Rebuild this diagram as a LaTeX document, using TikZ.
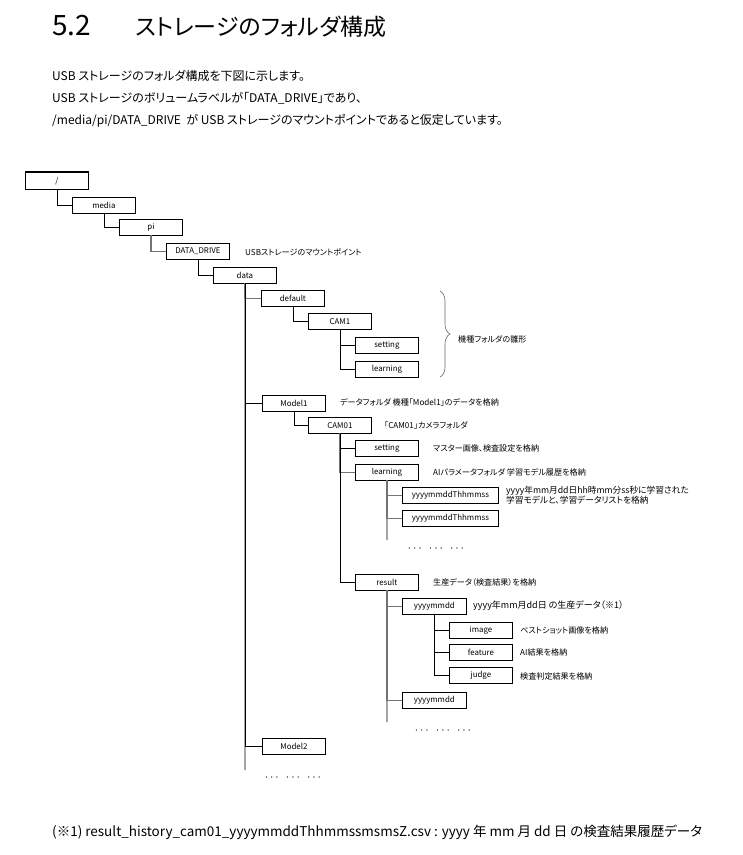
\documentclass[tikz,border=0pt]{standalone}
\usepackage{fontspec}
\setmainfont{Noto Sans CJK JP}[RawFeature=+palt]
\usetikzlibrary{decorations.pathreplacing}
\begin{document}
\begin{tikzpicture}[x=1pt,y=-1pt,
  box/.style={draw=black, line width=0.8pt, minimum width=63pt, minimum height=15.5pt,
    inner sep=0pt, anchor=north west, font=\fontsize{7.9}{9}\selectfont},
  wbox/.style={box, minimum width=96pt},
  mbox/.style={box, minimum width=64pt},
  lbl/.style={anchor=west, inner sep=0pt, font=\fontsize{8.1}{9.5}\selectfont},
  dots/.style={inner sep=0pt, font=\fontsize{11.5}{12}\selectfont},
  conn/.style={draw=black, line width=0.8pt},
  conng/.style={draw=black!55, line width=1.3pt},
  txt/.style={anchor=base west, inner sep=0pt, font=\fontsize{12}{14}\selectfont},
  ftxt/.style={anchor=base west, inner sep=0pt, font=\fontsize{13.5}{15}\selectfont},
  ttl/.style={anchor=base west, inner sep=0pt, font=\fontsize{23}{28}\selectfont}
]
\useasboundingbox (0,0) rectangle (743,855);
\fill[white] (0,0) rectangle (743,855);

% heading and text
\node[ttl, font=\fontsize{28}{30}\selectfont] (hnum) at (52,35) {5.2};
\node[ttl] (htit) at (135,35) {ストレージのフォルダ構成};
\node[txt] (l1) at (52,80) {USB ストレージのフォルダ構成を下図に示します。};
\node[txt] (l2) at (52,102) {USB ストレージのボリュームラベルが「DATA\_DRIVE」であり、};
\node[txt] (l3) at (52,124) {/media/pi/DATA\_DRIVE\ \ が\ USB ストレージのマウントポイントであると仮定しています。};
\node[ftxt] (fn) at (52,836) {(※1) result\_history\_cam01\_yyyymmddThhmmssmsmsZ.csv : yyyy 年 mm 月 dd 日\ の検査結果履歴データ};

% boxes
\node[box, minimum height=17pt] (root) at (25,172) {/};
\draw[line width=1.8pt] (root.north west) -- (root.north east);
\node[box] (media) at (72,197) {media};
\node[box] (pi) at (119,219) {pi};
\node[box] (dd) at (166,243) {DATA\_DRIVE};
\node[box] (data) at (213,267) {data};
\node[box] (default) at (261,290) {default};
\node[box] (cam1) at (308,313) {CAM1};
\node[box] (set1) at (355,337) {setting};
\node[box] (learn1) at (355,361) {learning};
\node[box] (model1) at (262,395) {Model1};
\node[box] (cam01) at (308,417) {CAM01};
\node[box] (set2) at (355,440) {setting};
\node[box] (learn2) at (355,464) {learning};
\node[wbox] (t1) at (402,487) {yyyymmddThhmmss};
\node[wbox] (t2) at (402,510) {yyyymmddThhmmss};
\node[box] (result) at (355,574) {result};
\node[mbox] (d1) at (402,598) {yyyymmdd};
\node[box] (img) at (449,622) {image};
\node[box] (feat) at (449,644) {feature};
\node[box] (judge) at (449,667) {judge};
\node[mbox] (d2) at (402,692) {yyyymmdd};
\node[box] (model2) at (262,738) {Model2};

% labels
\node[lbl] (ldd) at (245,252) {USBストレージのマウントポイント};
\node[lbl] (lbrace) at (458,339) {機種フォルダの雛形};
\node[lbl] (lm1) at (340,402) {データフォルダ\ 機種「Model1」のデータを格納};
\node[lbl] (lc01) at (384,425) {「CAM01」カメラフォルダ};
\node[lbl] (ls2) at (433,448) {マスター画像、検査設定を格納};
\node[lbl] (ll2) at (433,472) {AIパラメータフォルダ\ 学習モデル履歴を格納};
\node[lbl, align=left, font=\fontsize{8.7}{9.8}\selectfont] (lt1) at (506,495) {yyyy年mm月dd日hh時mm分ss秒に学習された\\学習モデルと、学習データリストを格納};
\node[lbl] (lres) at (433,582) {生産データ（検査結果）を格納};
\node[lbl, font=\fontsize{9}{10}\selectfont] (ld1) at (473,606) {yyyy年mm月dd日 の生産データ（※1）};
\node[lbl] (limg) at (520,630) {ベストショット画像を格納};
\node[lbl] (lfeat) at (520,652) {AI結果を格納};
\node[lbl] (ljudge) at (520,676) {検査判定結果を格納};

% dots
\node[dots] (dots1) at (436,549) {$\cdots\ \ \cdots\ \ \cdots$};
\node[dots] (dots2) at (443,731) {$\cdots\ \ \cdots\ \ \cdots$};
\node[dots] (dots3) at (293,778) {$\cdots\ \ \cdots\ \ \cdots$};

% end coordinates of open lines
\coordinate (dataend) at (245,770);
\coordinate (learnend) at (387,540);
\coordinate (resend) at (387,722);

% connectors
\draw[conn] (root.south) |- (media.west);
\draw[conn] (media.south) |- (pi.west);
\draw[conng] (pi.south) |- (dd.west);
\draw[conn] (dd.south) |- (data.west);
\draw[conn] (data.south) -- (dataend);
\draw[conng] (data.south) |- (default.west);
\draw[conn] (data.south) |- (model1.west);
\draw[conn] (data.south) |- (model2.west);
\draw[conn] (default.south) |- (cam1.west);
\draw[conn] (cam1.south) |- (set1.west);
\draw[conn] (cam1.south) |- (learn1.west);
\draw[conn] (model1.south) |- (cam01.west);
\draw[conn] (cam01.south) |- (set2.west);
\draw[conng] (cam01.south) |- (learn2.west);
\draw[conn] (cam01.south) |- (result.west);
\draw[conng] (learn2.south) -- (learnend);
\draw[conng] (learn2.south) |- (t1.west);
\draw[conng] (learn2.south) |- (t2.west);
\draw[conng] (result.south) -- (resend);
\draw[conng] (result.south) |- (d1.west);
\draw[conng] (result.south) |- (d2.west);
\draw[conn] (d1.south) |- (img.west);
\draw[conn] (d1.south) |- (feat.west);
\draw[conn] (d1.south) |- (judge.west);

% brace
\draw[black!60, line width=0.6pt, decorate, decoration={brace, amplitude=10pt}] (440,291) -- (440,377);
\end{tikzpicture}
\end{document}
